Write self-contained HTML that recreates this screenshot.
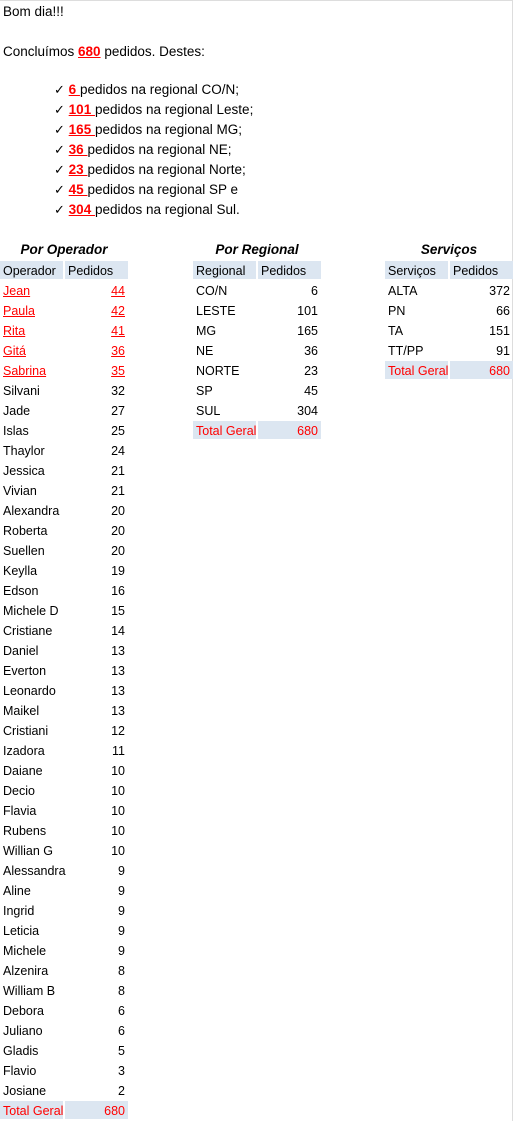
<!DOCTYPE html>
<html><head><meta charset="utf-8">
<style>
html,body{margin:0;padding:0;background:#fff;}
body{width:513px;height:1121px;position:relative;overflow:hidden;font-family:"Liberation Sans",sans-serif;font-size:12.5px;color:#000;}
.t{position:absolute;white-space:nowrap;line-height:20px;height:20px;font-size:13.5px;}
.r{color:#f00;text-decoration:underline;font-weight:bold;}
.cell{position:absolute;height:18px;line-height:20px;white-space:nowrap;box-sizing:border-box;padding:0 3px;}
.hd{background:#dce6f1;}
.num{text-align:right;}
.tot{background:#dce6f1;color:#f00;}
.red{color:#f00;text-decoration:underline;}
.title{position:absolute;font-weight:bold;font-style:italic;font-size:13.5px;text-align:center;line-height:20px;}
</style></head>
<body>
<div style="position:absolute;left:0;top:0;width:512px;height:1px;background:#ddd"></div>
<div style="position:absolute;left:512px;top:0;width:1px;height:1121px;background:#ddd"></div>
<div class="t" style="left:3px;top:2px">Bom dia!!!</div>
<div class="t" style="left:3px;top:42px">Concluímos <span class="r">680</span> pedidos. Destes:</div>
<div id="list"></div>
<div id="tables"></div>
<script>
const listNums=["6","101","165","36","23","45","304"];
const listText=["pedidos na regional CO/N;","pedidos na regional Leste;","pedidos na regional MG;","pedidos na regional NE;","pedidos na regional Norte;","pedidos na regional SP e","pedidos na regional Sul."];
const opNames=["Jean","Paula","Rita","Gitá","Sabrina","Silvani","Jade","Islas","Thaylor","Jessica","Vivian","Alexandra","Roberta","Suellen","Keylla","Edson","Michele D","Cristiane","Daniel","Everton","Leonardo","Maikel","Cristiani","Izadora","Daiane","Decio","Flavia","Rubens","Willian G","Alessandra","Aline","Ingrid","Leticia","Michele","Alzenira","William B","Debora","Juliano","Gladis","Flavio","Josiane"];
const opValues=[44,42,41,36,35,32,27,25,24,21,21,20,20,20,19,16,15,14,13,13,13,13,12,11,10,10,10,10,10,9,9,9,9,9,8,8,6,6,5,3,2];
const regNames=["CO/N","LESTE","MG","NE","NORTE","SP","SUL"];
const regValues=[6,101,165,36,23,45,304];
const svcNames=["ALTA","PN","TA","TT/PP"];
const svcValues=[372,66,151,91];

const list=document.getElementById('list');
listNums.forEach((n,i)=>{
  const d=document.createElement('div');
  d.className='t';d.style.left='54px';d.style.top=(80+i*20)+'px';
  d.innerHTML='<span style="font-size:13px">✓</span> <span class="r">'+n+' </span>'+listText[i];
  
  
  list.appendChild(d);
});

const tables=document.getElementById('tables');
function cell(x,y,w,txt,cls){
  const c=document.createElement('div');
  c.className='cell '+cls;c.style.left=x+'px';c.style.top=y+'px';c.style.width=w+'px';
  c.textContent=txt;
  
  
  tables.appendChild(c);
}
function table(x,title,h1,names,vals,redN){
  const t=document.createElement('div');
  t.className='title';t.style.left=x+'px';t.style.top='240px';t.style.width='128px';t.textContent=title;
  
  
  tables.appendChild(t);
  cell(x,261,63,h1,'hd');cell(x+65,261,63,'Pedidos','hd');
  let tot=0;
  names.forEach((n,i)=>{
    const y=281+i*20;tot+=vals[i];
    const red=i<redN?' red':'';
    cell(x,y,63,n,red);cell(x+65,y,63,String(vals[i]),'num'+red);
  });
  const y=281+names.length*20;
  cell(x,y,63,'Total Geral','tot');cell(x+65,y,63,String(tot),'tot num');
}
table(0,'Por Operador','Operador',opNames,opValues,5);
table(193,'Por Regional','Regional',regNames,regValues,0);
table(385,'Serviços','Serviços',svcNames,svcValues,0);
</script>
</body></html>
